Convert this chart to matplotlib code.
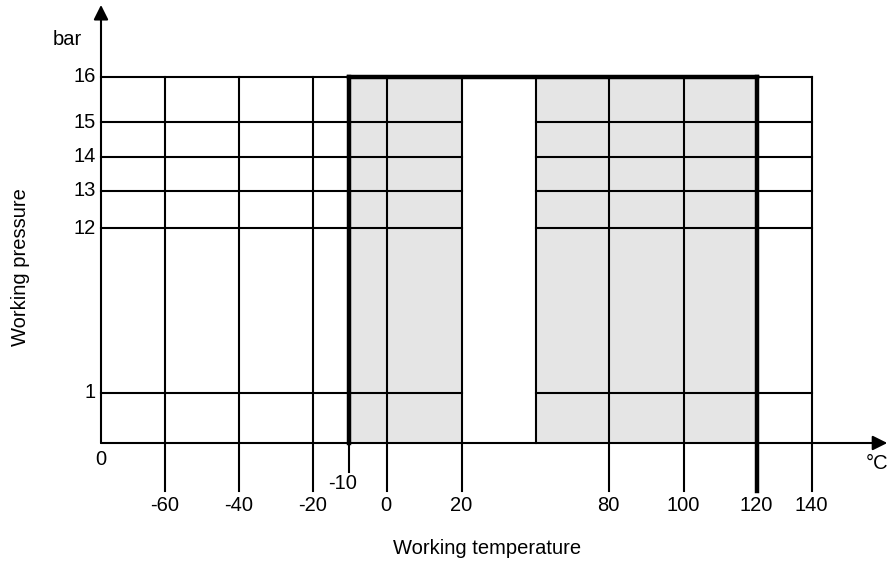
import numpy as np
import matplotlib
matplotlib.use("Agg")
import matplotlib.pyplot as plt

# temperature lines that carry a label (deg C)
temps = [-60, -40, -20, 0, 20, 80, 100, 120, 140]
temp_labels = ["-60", "-40", "-20", "0", "20", "80", "100", "120", "140"]
t_min, t_max = -10, 120        # permitted working range
gap = (20, 60)                 # break in the shaded range
t_right = 140                  # grid ends here
pressures = [1, 12, 13, 14, 15]
p_max = 16
p_labels = ["1", "12", "13", "14", "15", "16"]

# the drawing is schematic, both axes are piecewise scaled
T_KNOTS = [-104, -77, -60, -40, -20, -10, 0, 20, 60, 80, 100, 120, 140, 180]
X_POS = [0, 101, 165, 239, 313, 349, 387, 462, 536, 609, 684, 757, 812, 890]
P_KNOTS = [-2.44, 0, 1, 12, 13, 14, 15, 16, 17.71]
Y_POS = [565, 443, 393, 228, 191, 157, 122, 77, 0]
Y_UP = [565 - y for y in Y_POS]

t0 = T_KNOTS[1]   # where the pressure axis stands


def fx(t):
    return np.interp(t, T_KNOTS, X_POS)


def fx_inv(x):
    return np.interp(x, X_POS, T_KNOTS)


def fy(p):
    return np.interp(p, P_KNOTS, Y_UP)


def fy_inv(y):
    return np.interp(y, Y_UP, P_KNOTS)


plt.rcParams['font.family'] = ['Liberation Sans', 'DejaVu Sans']

fig = plt.figure(figsize=(8.9, 5.65), dpi=100)
ax = fig.add_axes([0, 0, 1, 1])
ax.set_xscale('function', functions=(fx, fx_inv))
ax.set_yscale('function', functions=(fy, fy_inv))
ax.set_xlim(T_KNOTS[0], T_KNOTS[-1])
ax.set_ylim(P_KNOTS[0], P_KNOTS[-1])
ax.axis('off')

lw = 1.5
lw_b = 3.2
grey = '#e5e5e5'
p_tick_end = -0.96     # vertical lines run down to the labels
p_tick_short = -0.58
x_tip = 178.6
p_tip = 17.6

# shaded working range
ax.fill_between([t_min, gap[0]], 0, p_max, color=grey, lw=0, zorder=0)
ax.fill_between([gap[1], t_max], 0, p_max, color=grey, lw=0, zorder=0)

# horizontal pressure lines, broken at the gap
for p in pressures:
    ax.plot([t0, gap[0]], [p, p], color='k', lw=lw, zorder=2)
    ax.plot([gap[1], t_right], [p, p], color='k', lw=lw, zorder=2)
ax.plot([t0, t_right], [p_max, p_max], color='k', lw=lw, zorder=2)
ax.plot([t_min, t_max], [p_max, p_max], color='k', lw=lw_b, zorder=3,
        solid_capstyle='projecting')

# vertical temperature lines
for t in temps:
    w = lw_b if t == t_max else lw
    ax.plot([t, t], [p_tick_end, p_max], color='k', lw=w, zorder=3)
ax.plot([gap[1], gap[1]], [0, p_max], color='k', lw=lw, zorder=2)
ax.plot([t_min, t_min], [0, p_max], color='k', lw=lw_b, zorder=3)
ax.plot([t_min, t_min], [p_tick_short, 0], color='k', lw=lw, zorder=3)

# axes with arrows
ax.annotate('', xy=(x_tip, 0), xytext=(t0, 0),
            arrowprops=dict(arrowstyle='-|>', color='k', lw=lw,
                            mutation_scale=22, shrinkA=0, shrinkB=0), zorder=4)
ax.annotate('', xy=(t0, p_tip), xytext=(t0, 0),
            arrowprops=dict(arrowstyle='-|>', color='k', lw=lw,
                            mutation_scale=22, shrinkA=0, shrinkB=0), zorder=4)

fs = 14.5
for t, lab in zip(temps, temp_labels):
    ax.annotate(lab, xy=(t, p_tick_end), xytext=(-0.5, -10.5), textcoords='offset points',
                ha='center', va='center', fontsize=fs)
ax.annotate('-10', xy=(t_min, p_tick_short), xytext=(-4.3, -8), textcoords='offset points',
            ha='center', va='center', fontsize=fs)
for p, lab in zip(pressures + [p_max], p_labels):
    ax.annotate(lab, xy=(t0, p), xytext=(-3.8, 0), textcoords='offset points',
                ha='right', va='center', fontsize=fs)
ax.annotate('0', xy=(t0, 0), xytext=(0, -12), textcoords='offset points',
            ha='center', va='center', fontsize=fs)
ax.annotate('bar', xy=(t0, p_tip), xytext=(-14, -25), textcoords='offset points',
            ha='right', va='center', fontsize=fs)
ax.annotate('°C', xy=(x_tip, 0), xytext=(-7, -14.5), textcoords='offset points',
            ha='center', va='center', fontsize=fs)

fig.text(487 / 890, 1 - 548 / 565, 'Working temperature', ha='center', va='center', fontsize=fs)
fig.text(21 / 890, 1 - 267 / 565, 'Working pressure', ha='center', va='center',
         rotation=90, fontsize=fs)

fig.savefig('out.png', dpi=100)
